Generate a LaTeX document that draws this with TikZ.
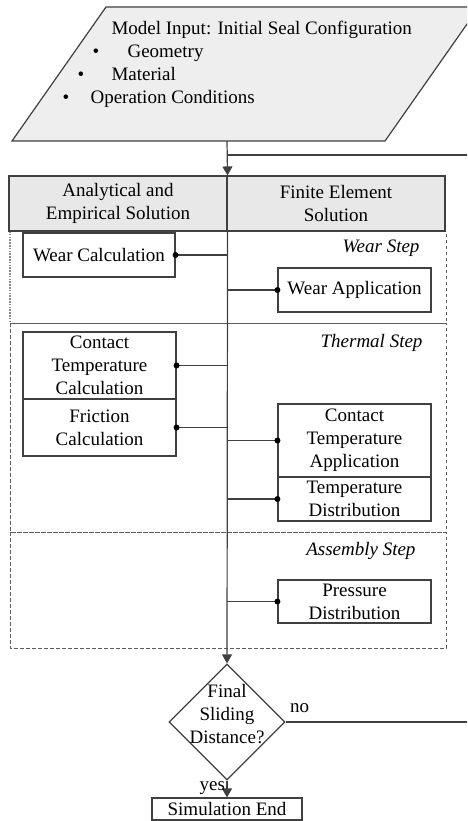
\documentclass[tikz,border=0pt]{standalone}
\usepackage{fontspec}
\setmainfont{Liberation Serif}
\usetikzlibrary{shapes.geometric,arrows.meta}
\definecolor{ln}{HTML}{404040}
\definecolor{fillA}{HTML}{EEEEEE}
\definecolor{fillB}{HTML}{E8E8E8}
\begin{document}
\begin{tikzpicture}[x=1pt,y=-1pt,
 every node/.style={font=\fontsize{19}{23}\selectfont, text=black},
 box/.style={draw=ln, line width=1.1pt, inner sep=0pt, align=center, fill=white},
 hdr/.style={box, fill=fillB, minimum width=218pt, minimum height=55pt},
 conn/.style={draw=ln, line width=1.2pt},
 dotend/.style={circle, fill=black, inner sep=0pt, minimum size=6pt},
 steplbl/.style={font=\fontsize{19}{23}\selectfont\itshape, anchor=base east},
 arr/.style={conn, -{Triangle[length=9pt,width=10pt]}},
 stepbox/.style={draw=ln!85, dash pattern=on 3.5pt off 2.5pt, line width=1pt}
]
\clip (0,0) rectangle (467,821);
\fill[white] (0,0) rectangle (467,821);

% input parallelogram
\draw[draw=ln, fill=fillA, line width=1.2pt] (12,141) -- (106,7) -- (479,7) -- (385,141) -- cycle;
\node[anchor=base west] (ttl) at (108,35) {Model Input: Initial Seal Configuration};
\node[anchor=base] (b1) at (96,58) {•};
\node[anchor=base west] (t1) at (124,58) {Geometry};
\node[anchor=base] (b2) at (81,81) {•};
\node[anchor=base west] (t2) at (108,81) {Material};
\node[anchor=base] (b3) at (66,104) {•};
\node[anchor=base west] (t3) at (87,104) {Operation Conditions};
\coordinate (inp) at (227,141);

% step regions
\draw[stepbox] (10,323) -- (446,323) -- (446,231);
\draw[draw=ln!60, line width=1.8pt, dash pattern=on 1.6pt off 1.2pt] (10,231) -- (10,323);
\draw[stepbox] (10,323) rectangle (446,532);
\draw[stepbox] (10,532) rectangle (446,648);
\node[steplbl] (ws) at (423,252) {Wear Step};
\node[steplbl] (ts) at (426,347) {Thermal Step};
\node[steplbl] (as) at (419,555) {Assembly Step};

% header
\node[hdr] (hL) at (118,203.5) {Analytical and\\Empirical Solution};
\node[hdr] (hR) at (336,203.5) {Finite Element\\Solution};

% boxes
\node[box, minimum width=152pt, minimum height=44pt] (wc) at (99,255) {Wear Calculation};
\node[box, minimum width=153pt, minimum height=44pt] (wa) at (354.5,290) {Wear Application};
\node[box, minimum width=153pt, minimum height=67pt] (ctc) at (99.5,365.5) {Contact\\Temperature\\Calculation};
\node[box, minimum width=153pt, minimum height=57pt] (fc) at (99.5,427.5) {Friction\\Calculation};
\node[box, minimum width=153pt, minimum height=73pt] (cta) at (354.5,440.5) {Contact\\Temperature\\Application};
\node[box, minimum width=153pt, minimum height=44pt] (td) at (354.5,499) {Temperature\\Distribution};
\node[box, minimum width=153pt, minimum height=43pt] (pd) at (354.5,601.5) {Pressure\\Distribution};

% decision
\node[draw=ln, line width=1.2pt, diamond, minimum width=116pt, minimum height=116pt, inner sep=0pt] (dec) at (227,722) {};
\node[align=center, inner sep=0pt] (dect) at (227,714) {Final\\Sliding\\Distance?};
\node[box, minimum width=150pt, minimum height=22pt] (se) at (227,809) {Simulation End};

% connectors
\draw[arr] (inp) -- (hL.north east);
\coordinate (j0) at (227,155);
\coordinate (fbR) at (467,155);
\draw[conn] (j0) -- (fbR);
\draw[arr] (hL.south east) -- (dec.north);
\foreach \b in {wc,ctc,fc}{
  \draw[conn] (\b.east) -- (\b.east -| dec.north);
  \node[dotend] at (\b.east) {};
}
\foreach \b in {wa,cta,td,pd}{
  \draw[conn] (\b.west) -- (\b.west -| dec.north);
  \node[dotend] at (\b.west) {};
}
\coordinate (noR) at (467,722);
\draw[conn] (dec.east) -- node[pos=0, anchor=south west, inner sep=0pt, xshift=4pt, yshift=9pt] (nolbl) {no} (noR);
\draw[arr] (dec.south) -- node[left, pos=0.45, xshift=2pt] (yeslbl) {yes} (se.north);
\end{tikzpicture}
\end{document}
